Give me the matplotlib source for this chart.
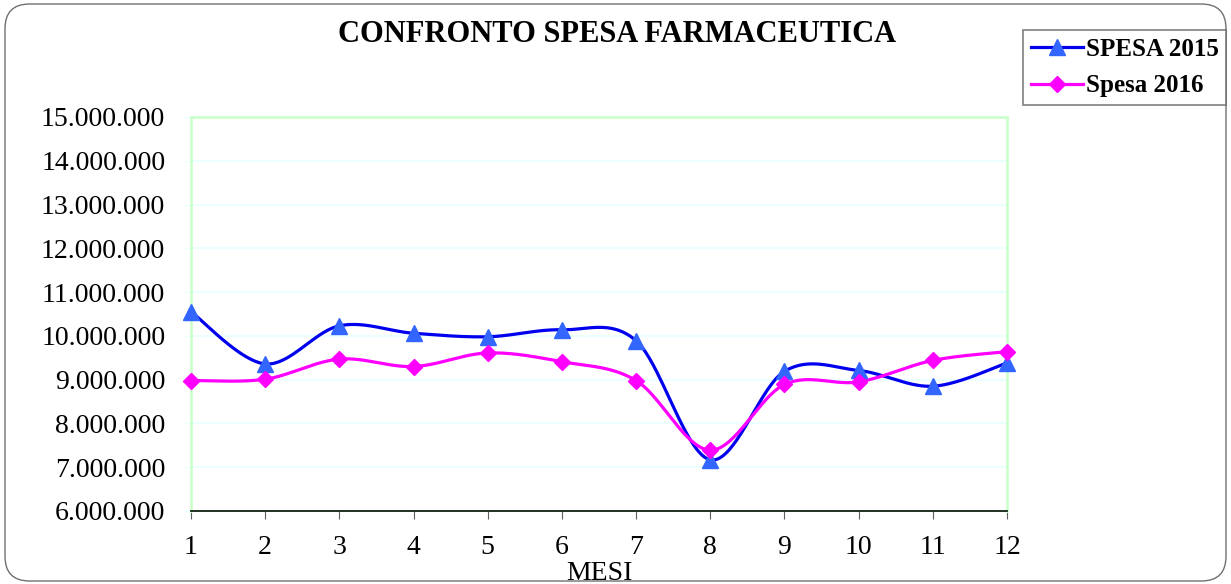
import numpy as np
import matplotlib
matplotlib.use("Agg")
import matplotlib.pyplot as plt
from matplotlib.patches import FancyBboxPatch
from matplotlib.ticker import FuncFormatter

months = list(range(1, 13))
spesa_2015 = [10.55e6, 9.36e6, 10.23e6, 10.06e6, 9.98e6, 10.14e6, 9.89e6, 7.17e6, 9.19e6, 9.21e6, 8.85e6, 9.38e6]
spesa_2016 = [8.98e6, 9.01e6, 9.47e6, 9.30e6, 9.61e6, 9.41e6, 8.98e6, 7.39e6, 8.89e6, 8.95e6, 9.44e6, 9.64e6]
series_names = ["SPESA 2015", "Spesa 2016"]
title = "CONFRONTO SPESA FARMACEUTICA"
xlabel = "MESI"

plt.rcParams['font.family'] = ['Liberation Serif', 'DejaVu Serif']


def excel_smooth(x, y, n=40):
    x = np.asarray(x, float)
    y = np.asarray(y, float)
    xs, ys = [x[0]], [y[0]]
    m = len(x)
    for i in range(m - 1):
        p0 = np.array([x[max(i - 1, 0)], y[max(i - 1, 0)]])
        p1 = np.array([x[i], y[i]])
        p2 = np.array([x[i + 1], y[i + 1]])
        p3 = np.array([x[min(i + 2, m - 1)], y[min(i + 2, m - 1)]])
        c1 = p1 + (p2 - p0) / 6.0
        c2 = p2 - (p3 - p1) / 6.0
        t = np.linspace(0, 1, n)[1:]
        pts = ((1 - t) ** 3)[:, None] * p1 + (3 * (1 - t) ** 2 * t)[:, None] * c1 \
            + (3 * (1 - t) * t ** 2)[:, None] * c2 + (t ** 3)[:, None] * p2
        xs.extend(pts[:, 0])
        ys.extend(pts[:, 1])
    return np.array(xs), np.array(ys)


fig = plt.figure(figsize=(12.31, 5.84), dpi=100)

border = FancyBboxPatch((5 / 1231, 3 / 584), 1221 / 1231, 577 / 584,
                        boxstyle="round,pad=0,rounding_size=0.02",
                        transform=fig.transFigure, facecolor='none',
                        edgecolor='#707070', linewidth=1.0, zorder=-1,
                        mutation_aspect=1231 / 584)
fig.patches.append(border)

ax = fig.add_axes([191 / 1231, 1 - 511 / 584, (1007 - 191) / 1231, (511 - 117) / 584])
ax.set_facecolor('none')

sx, sy = excel_smooth(months, spesa_2015)
ax.plot(sx, sy, color='#0000EE', linewidth=2.3, zorder=3, clip_on=False)
ax.plot(months, spesa_2015, linestyle='none', marker='^', markersize=11,
        color='#3366FF', zorder=4, clip_on=False)
sx2, sy2 = excel_smooth(months, spesa_2016)
ax.plot(sx2, sy2, color='#FF00FF', linewidth=2.3, zorder=3, clip_on=False)
ax.plot(months, spesa_2016, linestyle='none', marker='D', markersize=8,
        color='#FF00FF', zorder=4, clip_on=False)

ax.set_xlim(1, 12)
ax.set_ylim(6e6, 15e6)
ax.set_xticks(months)
ax.set_xticklabels([str(m) for m in months])
ax.set_yticks(np.arange(6e6, 15.01e6, 1e6))
ax.yaxis.set_major_formatter(FuncFormatter(lambda v, p: f"{int(round(v)):,}".replace(",", ".")))
ax.grid(axis='y', color='#E6FFFF', linewidth=1.2, zorder=1)
ax.set_axisbelow(True)

for s in ['left', 'top', 'right']:
    ax.spines[s].set_color('#CCFFCC')
    ax.spines[s].set_linewidth(2)
ax.spines['bottom'].set_color('#102010')
ax.spines['bottom'].set_linewidth(1.3)
ax.spines['bottom'].set_zorder(5)

ax.tick_params(axis='y', length=6, color='#E6FFFF', labelsize=20, pad=12.5)
ax.tick_params(axis='x', length=6, width=0.8, color='#606060', direction='out',
               labelsize=20, pad=11)
ax.set_xlabel(xlabel, fontsize=20, labelpad=1)

fig.text(617 / 1231, 1 - 35 / 584, title, ha='center', va='center',
         fontsize=22, fontweight='bold')

h1, = ax.plot([], [], color='#0000EE', linewidth=2.3, marker='^', markersize=11,
              markerfacecolor='#3366FF', markeredgecolor='#3366FF')
h2, = ax.plot([], [], color='#FF00FF', linewidth=2.3, marker='D', markersize=8)
leg = fig.legend([h1, h2], series_names, loc='upper left',
                 bbox_to_anchor=(1023 / 1231, 1 - 30 / 584),
                 prop={'size': 18, 'weight': 'bold'}, frameon=True, fancybox=False,
                 edgecolor='#606060', handlelength=2.1, borderpad=0.3,
                 labelspacing=0.55, handletextpad=0.1, borderaxespad=0)
leg.get_frame().set_linewidth(1.2)

fig.savefig("out.png", dpi=100)
